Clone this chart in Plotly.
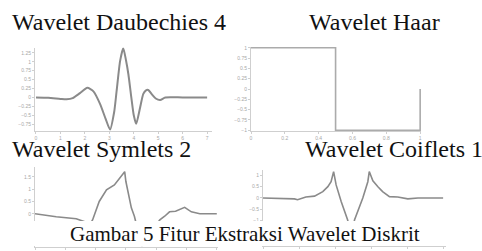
import plotly.graph_objects as go

W, H = 482, 251

# ---- data ----
db4_x = [0, 0.5, 1.0, 1.25, 1.5, 1.8, 2.1, 2.35, 2.62, 2.85, 3.03, 3.2, 3.3, 3.44, 3.57,
         3.68, 3.78, 3.9, 4.0, 4.1, 4.26, 4.39, 4.5, 4.59, 4.75, 4.9, 5.08, 5.29, 6.0, 7.0]
db4_y = [0, -0.01, -0.04, -0.05, -0.02, 0.12, 0.27, 0.17, -0.18, -0.6, -0.9, -0.4, 0.19, 1.02, 1.38,
         1.05, 0.65, 0.0, -0.5, -0.74, -0.28, 0.1, 0.2, 0.21, 0.08, -0.03, -0.07, 0.0, 0.0, 0.0]

haar_x = [0, 0.5, 0.5, 1.0, 1.0]
haar_y = [1, 1, -1, -1, 0]

sym2_x = [0, 0.35, 0.68, 0.82, 0.9, 0.95, 1.06, 1.18, 1.31, 1.48, 1.5, 1.59, 1.64, 1.76, 1.9,
          2.06, 2.14, 2.22, 2.32, 2.47, 2.58, 2.72, 3.0]
sym2_y = [0, -0.12, -0.2, -0.32, -0.45, -0.25, 0.5, 0.97, 1.17, 1.71, 1.31, 0.24, -0.1, -1.3, -0.8,
          -0.25, -0.1, 0.08, 0.1, 0.26, 0.08, 0.0, 0.0]

coif1_x = [0, 0.87, 0.96, 1.19, 1.43, 1.66, 1.8, 1.89, 1.96, 2.03, 2.17, 2.35, 2.45, 2.54, 2.77,
           2.91, 2.95, 3.05, 3.19, 3.32, 3.51, 3.74, 4.02, 4.3, 5.0]
coif1_y = [0, -0.04, -0.08, 0.04, 0.08, 0.28, 0.5, 0.72, 1.17, 0.58, -0.16, -0.98, -1.8, -0.98, 0,
           0.72, 1.17, 0.76, 0.5, 0.28, 0.06, 0.04, -0.04, 0, 0]

titles = ["Wavelet Daubechies 4", "Wavelet Haar", "Wavelet Symlets 2", "Wavelet Coiflets 1"]
caption = "Gambar 5 Fitur Ekstraksi Wavelet Diskrit"

# ---- layout helpers (pixel boxes -> paper domains) ----
def xd(a, b):
    return [a / W, b / W]

def yd(top, bottom):
    return [1 - bottom / H, 1 - top / H]

CURVE = "#8a8a8a"
AX = "#cfcfcf"
TICKF = dict(family="Liberation Sans", size=5, color="#a8a8a8")

fig = go.Figure()
fig.add_trace(go.Scatter(x=db4_x, y=db4_y, mode="lines", xaxis="x", yaxis="y",
                         line=dict(color=CURVE, width=2, shape="spline", smoothing=0.6)))
fig.add_trace(go.Scatter(x=haar_x, y=haar_y, mode="lines", xaxis="x2", yaxis="y2",
                         line=dict(color="#ababab", width=1.6)))
fig.add_trace(go.Scatter(x=sym2_x, y=sym2_y, mode="lines", xaxis="x3", yaxis="y3",
                         line=dict(color=CURVE, width=1.6)))
fig.add_trace(go.Scatter(x=coif1_x, y=coif1_y, mode="lines", xaxis="x4", yaxis="y4",
                         line=dict(color=CURVE, width=1.6)))

def axis(domain, rng, dtick, anchor):
    return dict(domain=domain, range=rng, dtick=dtick, anchor=anchor, showline=True,
                linecolor=AX, linewidth=1, ticks="outside", ticklen=2, tickcolor=AX,
                tickfont=TICKF, showgrid=False, zeroline=False, automargin=False)

fig.update_layout(
    width=W, height=H, margin=dict(l=0, r=0, t=0, b=0, autoexpand=False),
    paper_bgcolor="white", plot_bgcolor="white", showlegend=False,
    xaxis=axis(xd(35, 212), [-0.04, 7.2], 1, "y"),
    yaxis=axis(yd(47.5, 131), [-0.94, 1.4], 0.25, "x"),
    xaxis2=axis(xd(251, 421), [0, 1.005], 0.2, "y2"),
    yaxis2=axis(yd(47, 131), [-1.02, 1.02], 0.25, "x2"),
    xaxis3=axis(xd(35, 218), [0, 3.02], 0.5, "y3"),
    yaxis3=axis(yd(167, 247), [-1.35, 1.9], 0.5, "x3"),
    xaxis4=axis(xd(263, 446), [0, 5.08], 1, "y4"),
    yaxis4=axis(yd(170, 246), [-2.13, 1.24], 0.5, "x4"),
)

# white band over the lower part of the bottom plots (caption area)
fig.add_shape(type="rect", xref="paper", yref="paper", x0=0, x1=1,
              y0=1 - 246 / H, y1=1 - 221 / H, fillcolor="white", line=dict(width=0),
              layer="above")

TF = dict(family="Liberation Serif", size=24, color="#111111")
title_pos = [(119, 22), (374, 22), (101, 149), (394, 149)]
for t, (px, py) in zip(titles, title_pos):
    fig.add_annotation(text=t, xref="paper", yref="paper", x=px / W, y=1 - py / H,
                       xanchor="center", yanchor="middle", showarrow=False, font=TF)

fig.add_annotation(text=caption, xref="paper", yref="paper", x=245 / W, y=1 - 234 / H,
                   xanchor="center", yanchor="middle", showarrow=False,
                   font=dict(family="Liberation Serif", size=21, color="#111111"))

fig.write_html("out.html", config={"displayModeBar": False},
               post_script="document.body.style.margin='0';")
